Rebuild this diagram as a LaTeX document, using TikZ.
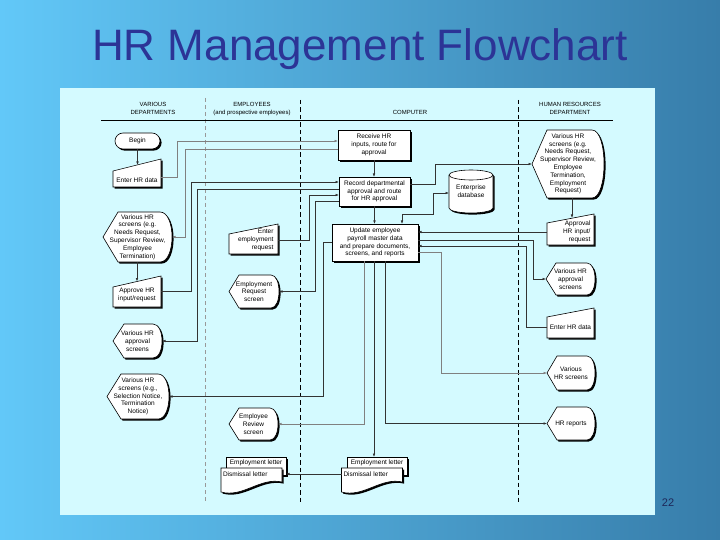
\documentclass[tikz,border=0pt]{standalone}
\usepackage{fontspec}
\setmainfont{Liberation Sans}
\usetikzlibrary{calc,shadows,arrows.meta}
\pgfdeclarelayer{bg}
\pgfdeclarelayer{shapes}
\pgfsetlayers{bg,shapes,main}
\definecolor{bgL}{RGB}{98,200,248}
\definecolor{bgR}{RGB}{55,125,170}
\definecolor{panelc}{RGB}{212,250,255}
\definecolor{titleblue}{RGB}{44,52,150}
\definecolor{pnumc}{RGB}{30,40,90}
\tikzset{
  shp/.style={fill=white, draw=black, line width=0.6pt,
    drop shadow={shadow xshift=1.6pt, shadow yshift=-1.6pt, opacity=1, fill=black}},
  txt/.style={font=\fontsize{6.5}{7.8}\selectfont, align=center, inner sep=0pt, outer sep=0pt},
  procbox/.style={txt, shp, rectangle},
  term/.style={txt, shp, rounded corners=8pt},
  conn/.style={draw=black!80, line width=0.55pt},
  connl/.style={draw=black!50, line width=0.55pt},
  hdr/.style={font=\fontsize{6}{7.2}\selectfont, align=center, inner sep=0pt},
  >={Latex[length=3.5pt,width=2.6pt]}
}
\newcommand\maninoutline[4]{\path[shp] ($(#1.west)+(0,#4)$) -- ($(#1.east)+(0,#4)$) -- ($(#1.east)+(0,#3)$) -- ($(#1.west)+(0,#2)$) -- cycle;}
\newcommand\dispoutline[3]{\path[shp] (#1.west) -- ($(#1.north west)+(#2,0)$) -- ($(#1.north east)+(-#3,0)$) .. controls ($(#1.north east)+(#3/3,0)$) and ($(#1.south east)+(#3/3,0)$) .. ($(#1.south east)+(-#3,0)$) -- ($(#1.south west)+(#2,0)$) -- cycle;}
\begin{document}
\begin{tikzpicture}[x=1pt,y=-1pt]
\useasboundingbox (0,0) rectangle (720,540);
\begin{pgfonlayer}{bg}
  \shade[left color=bgL, right color=bgR] (0,0) rectangle (720,540);
  \fill[panelc] (60,88) rectangle (655,515);
  \draw[black!40, line width=0.6pt, dash pattern=on 4pt off 3pt] (205,98) -- (205,503);
  \draw[black, line width=0.75pt, dash pattern=on 4.5pt off 3pt] (300,100) -- (300,503);
  \draw[black, line width=0.75pt, dash pattern=on 4.5pt off 3pt] (518,100) -- (518,503);
  \draw[black, line width=0.75pt] (101,120) -- (613,120);
\end{pgfonlayer}

% title and page number
\node[font=\fontsize{44}{50}\selectfont, text=titleblue, anchor=base, inner sep=0pt] (title) at (360,61) {HR Management Flowchart};
\node[font=\fontsize{11}{13}\selectfont, text=pnumc, inner sep=0pt] (pnum) at (668,503) {22};

% lane headers
\node[hdr] (hVar) at (153,108.5) {VARIOUS\\DEPARTMENTS};
\node[hdr] (hEmp) at (252,109) {EMPLOYEES\\(and prospective employees)};
\node[hdr] (hComp) at (410,112) {COMPUTER};
\node[hdr] (hHR) at (570,108.5) {HUMAN RESOURCES\\DEPARTMENT};

% various departments lane
\node[term, minimum width=45pt, minimum height=16pt] (begin) at (137.5,141) {Begin};
\node[txt, minimum width=48pt, minimum height=16pt] (enterL) at (137,180) {Enter HR data};
\node[txt, minimum width=69pt, minimum height=50pt] (scrL1) at (137.5,237) {Various HR\\screens (e.g.\\Needs Request,\\Supervisor Review,\\Employee\\Termination)};
\node[txt, minimum width=48pt, minimum height=16pt] (approveL) at (137,295) {Approve HR\\input/request};
\node[txt, minimum width=49pt, minimum height=34pt] (scrL2) at (137.5,341) {Various HR\\approval\\screens};
\node[txt, minimum width=62pt, minimum height=45pt] (scrL3) at (138,396.5) {Various HR\\screens (e.g.,\\Selection Notice,\\Termination\\Notice)};

% employees lane
\node[txt, align=right, text width=40pt, minimum width=49pt, minimum height=16pt] (enterE) at (253.5,240) {Enter\\employment\\request};
\node[txt, minimum width=50pt, minimum height=33pt] (scrE1) at (254,291.5) {Employment\\Request\\screen};
\node[txt, minimum width=49pt, minimum height=32pt] (scrE2) at (253.5,424) {Employee\\Review\\screen};
\node[txt, minimum width=60pt, minimum height=12pt] (docEb) at (256,463) {Employment letter};
\node[txt, minimum width=61pt, minimum height=12pt, text width=57pt, align=left] (docEf) at (251.5,474) {Dismissal letter};

% computer lane
\node[procbox, minimum width=72pt, minimum height=30pt] (recv) at (374,145) {Receive HR\\inputs, route for\\approval};
\node[procbox, minimum width=71pt, minimum height=29pt] (record) at (374.5,191.5) {Record departmental\\approval and route\\for HR approval};
\node[procbox, minimum width=86pt, minimum height=37pt] (update) at (375,242.5) {Update employee\\payroll master data\\and prepare documents,\\screens, and reports};
\node[txt, minimum width=44pt, minimum height=43pt] (db) at (471,191.5) {Enterprise\\database};
\node[txt, minimum width=60pt, minimum height=12pt] (docCb) at (377,463) {Employment letter};
\node[txt, minimum width=61pt, minimum height=12pt, text width=57pt, align=left] (docCf) at (372,474) {Dismissal letter};

% human resources lane
\node[txt, minimum width=72pt, minimum height=68pt] (scrH1) at (568,164) {Various HR\\screens (e.g.\\Needs Request,\\Supervisor Review,\\Employee\\Termination,\\Employment\\Request)};
\node[txt, align=right, text width=40pt, minimum width=47pt, minimum height=16pt] (approveH) at (570.5,232) {Approval\\HR input/\\request};
\node[txt, minimum width=49pt, minimum height=32pt] (scrH2) at (570.5,279) {Various HR\\approval\\screens};
\node[txt, minimum width=47pt, minimum height=16pt] (enterH) at (570.5,327) {Enter HR data};
\node[txt, minimum width=48pt, minimum height=34pt] (scrH3) at (571,373) {Various\\HR screens};
\node[txt, minimum width=48pt, minimum height=33pt] (scrH4) at (571,423.5) {HR reports};

% outlines of the special shapes
\begin{pgfonlayer}{shapes}
  \maninoutline{enterL}{-9}{-21}{7}
  \dispoutline{scrL1}{15}{12}
  \maninoutline{approveL}{-8}{-19}{12}
  \dispoutline{scrL2}{11}{9}
  \dispoutline{scrL3}{14}{11}
  \maninoutline{enterE}{-6}{-16}{14}
  \dispoutline{scrE1}{10}{8}
  \dispoutline{scrE2}{10}{8}
  \dispoutline{scrH1}{15}{12}
  \maninoutline{approveH}{-9}{-18}{13}
  \dispoutline{scrH2}{10}{8}
  \maninoutline{enterH}{-10}{-19}{11}
  \dispoutline{scrH3}{10}{8}
  \dispoutline{scrH4}{10}{8}
  % documents
  \path[shp] (docEb.north west) rectangle ($(docEb.north east)+(0,18)$);
  \path[shp] (docEf.north west) -- (docEf.north east) -- ($(docEf.north east)+(0,14)$) .. controls ($(docEf.north east)+(-22,9)$) and ($(docEf.north west)+(22,30)$) .. ($(docEf.north west)+(0,24)$) -- cycle;
  \path[shp] (docCb.north west) rectangle ($(docCb.north east)+(0,18)$);
  \path[shp] (docCf.north west) -- (docCf.north east) -- ($(docCf.north east)+(0,14)$) .. controls ($(docCf.north east)+(-22,9)$) and ($(docCf.north west)+(22,30)$) .. ($(docCf.north west)+(0,24)$) -- cycle;
  % database cylinder
  \path[shp] ($(db.north west)+(0,5)$) -- ($(db.south west)+(0,-5)$) arc[start angle=180, end angle=360, x radius=22pt, y radius=5pt] -- ($(db.north east)+(0,5)$) arc[start angle=0, end angle=180, x radius=22pt, y radius=5pt] -- cycle;
  \draw[black, line width=0.6pt] ($(db.north west)+(0,5)$) arc[start angle=180, end angle=360, x radius=22pt, y radius=5pt];
\end{pgfonlayer}

% connectors
\draw[conn,->] (begin.south) -- ($(enterL.center)+(0.5,-15)$);
\draw[connl,->] ([yshift=3pt]enterL.east) -| (177,141) -- (recv.west |- 0,141);
\draw[connl,->] (recv.west |- 0,149) -| (185,237) -- (scrL1.east);
\draw[conn,->] (approveL.center |- scrL1.south) -- ($(approveL.center)+(0,-13.5)$);
\draw[conn,->] ([yshift=4pt]approveL.east) -| (191,182) -- (record.west |- 0,182);
\draw[conn,->] (record.west |- 0,189) -| (197,341) -- (scrL2.east);
\draw[conn,->] (enterE.east) -| (309,195) -- (record.west |- 0,195);
\draw[conn,->] (record.west |- 0,201) -| (315,291.5) -- (scrE1.east);
\draw[conn,->] (recv.south) -- (recv.south |- record.north);
\draw[conn,->] (record.south) -- (record.south |- update.north);
\draw[conn,->] (update.west) -| (323,396.5) -- (scrL3.east);
\draw[connl,->] (update.south -| 364,0) -- (364,424) -- (scrE2.east);
\draw[conn,->] (update.south -| 374,0) -- (docCb.north -| 374,0);
\draw[conn,->] (update.south -| 385,0) |- (scrH4.west);
\draw[connl,->] (update.east |- 0,252) -| (441,373) -- (scrH3.west);
\draw[conn,->] (approveH.west) -- (update.east |- approveH.west);
\draw[conn,->] (update.east |- 0,240) -| (533,279) -- (scrH2.west);
\draw[conn,->] (enterH.west) -| (526,246) -- (update.east |- 0,246);
\draw[conn,->] (record.east |- 0,184) -| (435,164) -- (scrH1.west);
\draw[conn,<->] (update.north -| 402,0) |- (433,214) |- (db.west |- 0,193);
\draw[conn,->] ($(scrH1.south)+(4,0)$) -- ($(approveH.center)+(1.5,-14)$);
\draw[conn,->] (docCf.west) -- (docEb.east |- docCf.west);
\end{tikzpicture}
\end{document}
